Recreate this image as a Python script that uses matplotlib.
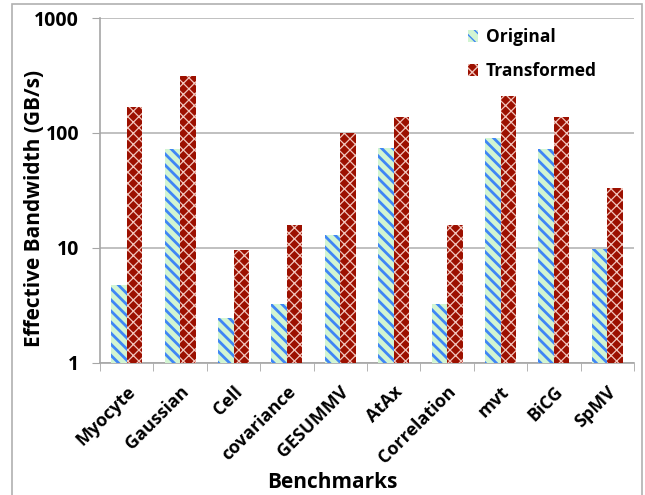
import matplotlib
matplotlib.use("Agg")
import matplotlib.pyplot as plt
import matplotlib.transforms as mtransforms
import numpy as np
from matplotlib.patches import Rectangle

categories = ["Myocyte", "Gaussian", "Cell", "covariance", "GESUMMV",
              "AtAx", "Correlation", "mvt", "BiCG", "SpMV"]
original = [4.7, 72, 2.45, 3.25, 13.0, 74.5, 3.25, 91, 73, 9.7]
transformed = [169, 310, 9.5, 15.7, 99, 138, 15.7, 210, 138, 33]
yticks = [1, 10, 100, 1000]
ytick_labels = ["1", "10", "100", "1000"]

plt.rcParams['font.family'] = ['Open Sans', 'DejaVu Sans']
plt.rcParams['font.weight'] = 'bold'

W, H = 645, 495
fig = plt.figure(figsize=(6.45, 4.95), dpi=100)
ax = fig.add_axes([100/W, 1-362.5/H, 534/W, (362.5-18)/H])

x = np.arange(len(categories))
w = 0.29
with plt.rc_context({'hatch.linewidth': 2.0}):
    ax.bar(x - w/2, original, w, color='#d2f5d2', edgecolor='#3f86f5',
           linewidth=0, hatch='\\\\\\', label='Original', zorder=3)
with plt.rc_context({'hatch.linewidth': 0.9}):
    ax.bar(x + w/2, transformed, w, color='#9c1000', edgecolor='#f2c6bd',
           linewidth=0, hatch='xxx', label='Transformed', zorder=3)

ax.set_yscale('log')
ax.set_ylim(1, 1000)
ax.set_xlim(-0.5, len(categories) - 0.5)
ax.set_yticks(yticks)
ax.set_yticklabels(ytick_labels)
ax.yaxis.set_minor_locator(matplotlib.ticker.NullLocator())
ax.tick_params(axis='y', which='major', length=6, color='#a6a6a6',
               labelsize=14, pad=9)
ax.grid(axis='y', color='#b5b5b5', linewidth=1.2, zorder=0)
ax.set_axisbelow(True)

ax.set_xticks(x)
ax.set_xticklabels(categories, rotation=45, ha='right', va='center',
                   rotation_mode='anchor', fontsize=13)
ax.tick_params(axis='x', which='major', length=0, pad=19)
off = mtransforms.ScaledTranslation(6/100, 0, fig.dpi_scale_trans)
for lbl in ax.get_xticklabels():
    lbl.set_transform(lbl.get_transform() + off)
ax.set_xticks(np.arange(-0.5, len(categories)), minor=True)
ax.tick_params(axis='x', which='minor', length=6, color='#a6a6a6')

for s in ['top', 'right']:
    ax.spines[s].set_visible(False)
for s in ['left', 'bottom']:
    ax.spines[s].set_color('#a6a6a6')
    ax.spines[s].set_linewidth(1.2)

fig.text(35/W, 1-208/H, 'Effective Bandwidth (GB/s)', rotation=90,
         ha='center', va='center', fontsize=15, fontweight='bold')
fig.text(332/W, 1-488/H, 'Benchmarks', ha='center', va='baseline',
         fontsize=15, fontweight='bold')

leg = ax.legend(loc='upper left', bbox_to_anchor=(468/W, 1-28/H),
                bbox_transform=fig.transFigure, frameon=False,
                fontsize=12.5, handlelength=0.57, handleheight=0.7,
                handletextpad=0.45, labelspacing=0.95, borderpad=0,
                borderaxespad=0)

fig.patches.append(Rectangle((12/W, -0.1), 630/W, 1.1 - 4/H,
                             transform=fig.transFigure, fill=False,
                             edgecolor='#b0b0b0', linewidth=1.2))

fig.savefig('out.png', dpi=100)
